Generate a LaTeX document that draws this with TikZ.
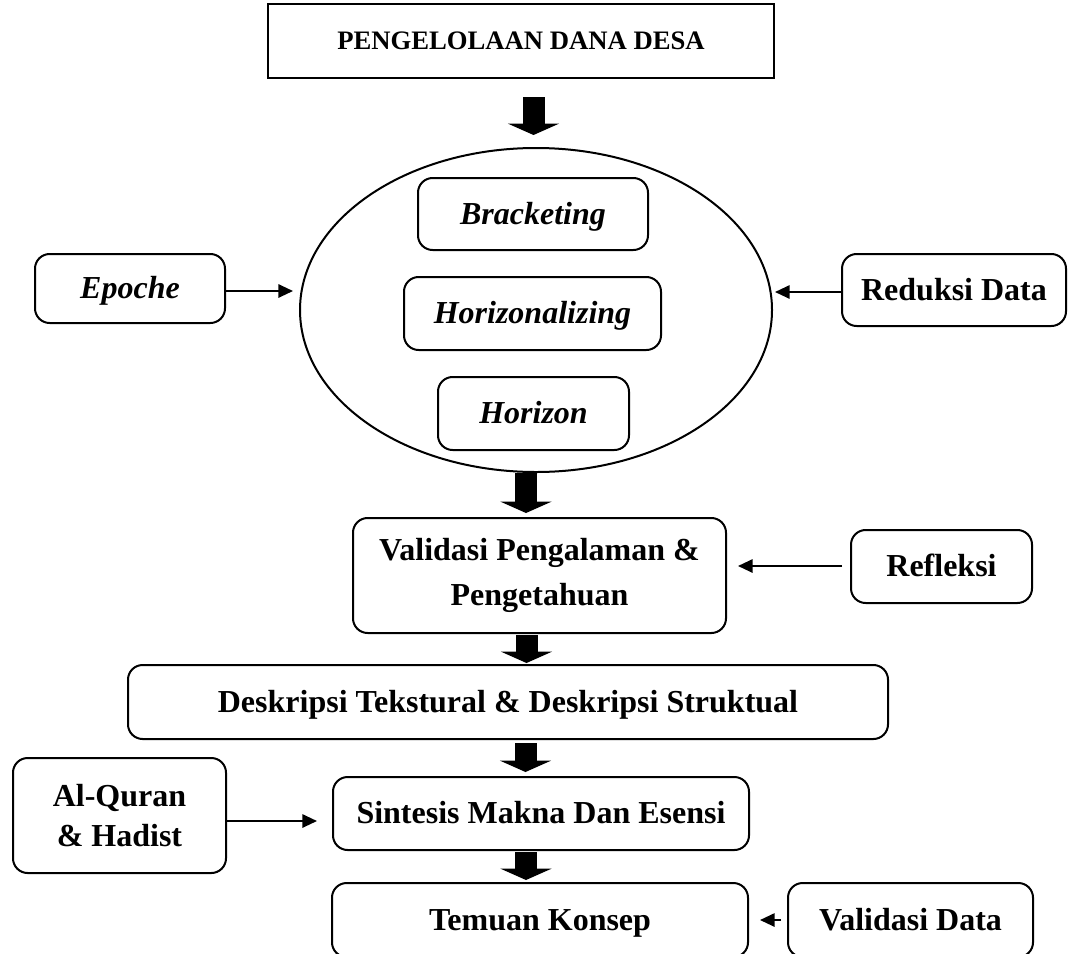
\documentclass[tikz,border=0pt]{standalone}
\usepackage{fontspec}
\setmainfont{Liberation Serif}
\usetikzlibrary{arrows.meta,calc,shapes.geometric}
\begin{document}
\begin{tikzpicture}[x=0.75pt,y=-0.75pt,
  txt/.style={font=\fontsize{24}{25}\selectfont\bfseries},
  itx/.style={font=\fontsize{24}{25}\selectfont\bfseries\itshape},
  box/.style={draw,line width=1.5pt,rounded corners=11pt,align=center,inner sep=0pt,txt,text height=19.5pt,text depth=4pt},
  sqbox/.style={draw,line width=1.5pt,align=center,inner sep=0pt,font=\fontsize{20}{22}\selectfont\bfseries},
  sz/.style 2 args={minimum width=#1*0.75pt,minimum height=#2*0.75pt},
  sarrow/.style={line width=1.5pt,-{Triangle[length=11pt,width=10pt]}},
  bigarrow/.style={line width=16.5pt,-{Triangle[length=8.5pt,width=38pt]}}
]
\useasboundingbox (0,0) rectangle (1073,953);
\clip (0,0) rectangle (1073,953);

\node[sqbox,sz={506}{74}] (title) at (521,41) {PENGELOLAAN DANA DESA};
\node[draw,ellipse,line width=1.5pt,inner sep=0pt,sz={472}{324}] (ell) at (536,310) {};
\node[box,itx,sz={230}{72}] (brk) at (533,214) {Bracketing};
\node[box,itx,sz={257}{73}] (hzz) at (532.5,313.5) {Horizonalizing};
\node[box,itx,sz={191}{73}] (hzn) at (533.5,413.5) {Horizon};
\node[box,itx,sz={190}{69}] (epo) at (130,288.5) {Epoche};
\node[box,sz={224}{72}] (red) at (954,290) {Reduksi Data};
\node[box,sz={373}{115},text height=,text depth=,font=\fontsize{24}{34}\selectfont\bfseries] (val) at (539.5,575.5) {Validasi Pengalaman \&\\Pengetahuan};
\node[box,sz={181}{73}] (ref) at (941.5,566.5) {Refleksi};
\node[box,sz={760}{74}] (des) at (508,702) {Deskripsi Tekstural \& Deskripsi Struktual};
\node[box,sz={213}{115},text height=,text depth=,font=\fontsize{24}{30}\selectfont\bfseries] (alq) at (119.5,815.5) {Al-Quran\\\& Hadist};
\node[box,sz={416}{73}] (sin) at (541,813.5) {Sintesis Makna Dan Esensi};
\node[box,sz={416}{74}] (tem) at (540,920) {Temuan Konsep};
\node[box,sz={245}{74}] (vd) at (910.5,920) {Validasi Data};

% small arrows
\coordinate (e1) at (293,291);
\coordinate (r1) at (775,292);
\coordinate (f1) at (738,566);
\coordinate (q1) at (317,821);
\coordinate (v1) at (760,920);
\draw[sarrow] (epo.east |- e1) -- (e1);
\draw[sarrow] (red.west |- r1) -- (r1);
\draw[sarrow] ([xshift=-6pt]ref.west |- f1) -- (f1);
\draw[sarrow] (alq.east |- q1) -- (q1);
\draw[sarrow] ([xshift=-4.5pt]vd.west) -- (v1);

% thick arrows
\coordinate (t1a) at (533.5,97);  \coordinate (t1b) at (533.5,135);
\coordinate (t2a) at (526,473);   \coordinate (t2b) at (526,513);
\coordinate (t3a) at (526.5,635); \coordinate (t3b) at (526.5,663);
\coordinate (t4a) at (525.5,743); \coordinate (t4b) at (525.5,772);
\coordinate (t5a) at (526,852);   \coordinate (t5b) at (526,880);
\draw[bigarrow] (t1a) -- (t1b);
\draw[bigarrow] (t2a) -- (t2b);
\draw[bigarrow] (t3a) -- (t3b);
\draw[bigarrow] (t4a) -- (t4b);
\draw[bigarrow] (t5a) -- (t5b);
\end{tikzpicture}
\end{document}
